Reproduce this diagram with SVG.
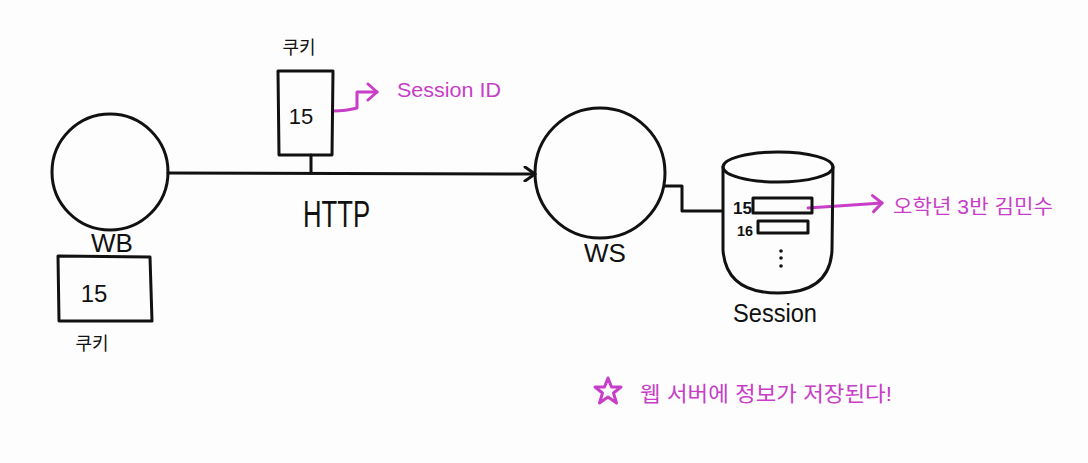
<svg xmlns="http://www.w3.org/2000/svg" width="1088" height="463" viewBox="0 0 1088 463">
<defs>
<style>
.k{fill:none;stroke:#111;stroke-width:3;stroke-linecap:round;stroke-linejoin:round}
.m{fill:none;stroke:#c83ec8;stroke-width:3;stroke-linecap:round;stroke-linejoin:round}
.t{font-family:"Liberation Sans","Noto Sans CJK KR",sans-serif;fill:#111}
.p{font-family:"Liberation Sans","Noto Sans CJK KR",sans-serif;fill:#c83ec8}
</style>
<marker id="ak" markerWidth="16" markerHeight="16" refX="12" refY="8" orient="auto" markerUnits="userSpaceOnUse">
<path d="M2,1 L12,8 L2,15" fill="none" stroke="#111" stroke-width="3" stroke-linecap="round" stroke-linejoin="round"/>
</marker>
<marker id="am" markerWidth="16" markerHeight="20" refX="12" refY="10" orient="auto" markerUnits="userSpaceOnUse">
<path d="M3,2 L12,10 L3,18" fill="none" stroke="#c83ec8" stroke-width="3" stroke-linecap="round" stroke-linejoin="round"/>
</marker>
</defs>
<rect width="1088" height="463" fill="#fdfdfd"/>

<g id="connectors">
<path class="k" d="M168,173 L535,174" marker-end="url(#ak)"/>
<path class="k" d="M311,155 L311,173"/>
<path class="k" d="M665,186 L682,186 L682,211 L722,211"/>
<path class="m" d="M333,111 Q346,111 357,108 L357,92 L377,92" marker-end="url(#am)"/>
<path class="m" d="M808,208 L882,203" marker-end="url(#am)"/>
</g>

<g id="wb">
<circle class="k" cx="110" cy="172" r="58"/>
<text class="t" x="112" y="252" font-size="26" text-anchor="middle">WB</text>
</g>

<g id="wb-cookie">
<path class="k" d="M58,256 L150,257 L152,321 L59,321 Z"/>
<text class="t" x="94" y="302" font-size="24" text-anchor="middle">15</text>
<text class="t" x="92" y="350" font-size="18" text-anchor="middle">쿠키</text>
</g>

<g id="http-cookie">
<path class="k" d="M278,71 L333,71 L332,155 L279,155 Z"/>
<text class="t" x="301" y="124" font-size="22" text-anchor="middle">15</text>
<text class="t" x="299" y="54" font-size="18" text-anchor="middle">쿠키</text>
<text class="p" x="397" y="97" font-size="21" textLength="104" lengthAdjust="spacingAndGlyphs">Session ID</text>
</g>

<g id="http-label">
<text class="t" x="303" y="227" font-size="36" textLength="67" lengthAdjust="spacingAndGlyphs">HTTP</text>
</g>

<g id="ws">
<circle class="k" cx="600" cy="173" r="65"/>
<text class="t" x="605" y="262" font-size="26" text-anchor="middle">WS</text>
</g>

<g id="session">
<ellipse class="k" cx="778" cy="167" rx="55" ry="15"/>
<path class="k" d="M723,167 L723,250 Q726,293 778,293 Q830,293 832,250 L833,167"/>
<text class="t" x="733" y="214" font-size="17" font-weight="bold" textLength="19" lengthAdjust="spacingAndGlyphs">15</text>
<rect class="k" x="753" y="198" width="59" height="15"/>
<text class="t" x="737" y="236" font-size="15" font-weight="bold" textLength="16" lengthAdjust="spacingAndGlyphs">16</text>
<rect class="k" x="758" y="221" width="50" height="12"/>
<circle cx="781" cy="251" r="1.8" fill="#111"/>
<circle cx="781" cy="258" r="1.8" fill="#111"/>
<circle cx="781" cy="266" r="1.8" fill="#111"/>
<text class="t" x="775" y="322" font-size="25" text-anchor="middle" textLength="84" lengthAdjust="spacingAndGlyphs">Session</text>
<text class="p" x="893" y="214" font-size="20" textLength="160" lengthAdjust="spacingAndGlyphs">오학년 3반 김민수</text>
</g>

<g id="note">
<polygon class="m" points="608,378 611.5,387 621,387 613.5,393 616.5,403 608,397 599.5,403 602.5,393 595,387 604.5,387"/>
<text class="p" x="640" y="401" font-size="21" textLength="252" lengthAdjust="spacingAndGlyphs">웹 서버에 정보가 저장된다!</text>
</g>
</svg>
